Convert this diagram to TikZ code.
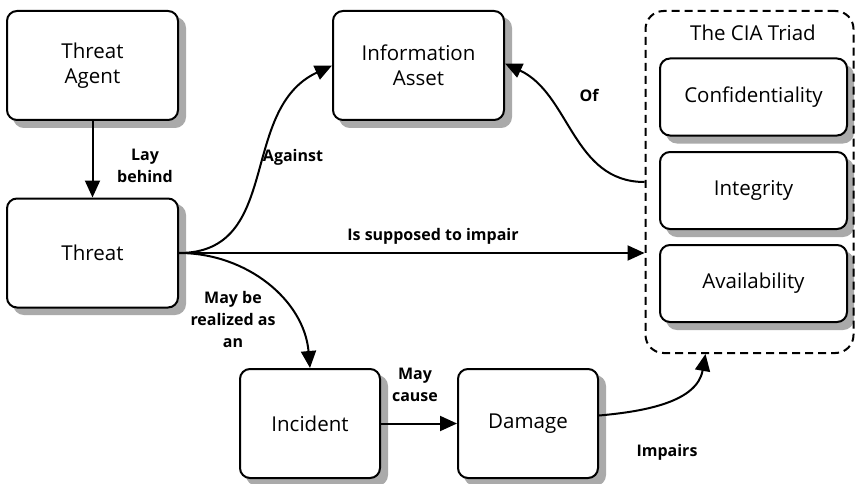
\documentclass[tikz,border=0pt]{standalone}
\usepackage{fontspec}
\setmainfont{Open Sans}
\usetikzlibrary{arrows.meta}
\definecolor{shadowgray}{RGB}{170,170,170}
\begin{document}
\begin{tikzpicture}[x=1pt,y=-1pt,
  box/.style={draw=black, line width=2pt, rounded corners=10pt, fill=white, align=center,
    inner sep=0pt, font=\fontsize{20.5}{25}\selectfont},
  bigbox/.style={box, minimum width=171pt, minimum height=109pt},
  ciabox/.style={box, minimum width=187pt, minimum height=77pt},
  smallbox/.style={box, minimum width=140pt, minimum height=109pt},
  shadowbox/.style={fill=shadowgray, draw=shadowgray, line width=2pt, rounded corners=10pt},
  arr/.style={line width=2pt, -{Triangle[length=17pt,width=15pt]}},
  lbl/.style={align=center, inner sep=0pt, font=\bfseries\fontsize{16}{22}\selectfont}
]
\fill[white] (0,0) rectangle (856,484);
\useasboundingbox (0,0) rectangle (856,484);
\filldraw[shadowbox] (14,18) rectangle (185,127);
\filldraw[shadowbox] (14,205) rectangle (185,314);
\filldraw[shadowbox] (340,18) rectangle (511,127);
\filldraw[shadowbox] (667,65.5) rectangle (853,142.5);
\filldraw[shadowbox] (667,159) rectangle (853,236);
\filldraw[shadowbox] (667,252) rectangle (853,329);
\filldraw[shadowbox] (247,376) rectangle (387,485);
\filldraw[shadowbox] (465,376) rectangle (605,485);

\node[bigbox] (agent) at (92.5,65.5) {Threat\\Agent};
\node[bigbox] (threat) at (92.5,253) {Threat};
\node[bigbox] (asset) at (418.5,65.5) {Information\\Asset};
\node[draw=black, line width=2pt, dash pattern=on 8pt off 5pt, rounded corners=18pt,
  minimum width=208pt, minimum height=342pt, inner sep=0pt] (cia) at (749.5,182) {};
\node[align=center, inner sep=0pt, font=\fontsize{20.5}{25}\selectfont] (ciat) at (753,33) {The CIA Triad};
\node[ciabox] (conf) at (753.5,97) {Confidentiality};
\node[ciabox] (integ) at (753.5,190.5) {Integrity};
\node[ciabox] (avail) at (753.5,283.5) {Availability};
\node[smallbox] (incident) at (310,423.5) {Incident};
\node[smallbox] (damage) at (528,423.5) {Damage};

\draw[arr] (agent) -- (threat);
\draw[arr] (threat.east) to[out=0,in=205,looseness=1.1] (asset.west);
\draw[arr] (threat.east) -- (threat.east -| cia.west);
\draw[arr] (threat.east) to[out=0,in=95,looseness=1] (incident.north);
\draw[arr] (incident) -- (damage);
\draw[arr] ([yshift=8pt]damage.east) to[out=5,in=-100,looseness=1] ([xshift=-44pt]cia.south);
\draw[arr] (cia.west) to[out=180,in=-25,looseness=1] ([yshift=2pt]asset.east);

\node[lbl] (l1) at (145,166) {Lay\\behind};
\node[lbl] (l2) at (293,157) {Against};
\node[lbl] (l3) at (433,236) {Is supposed to impair};
\node[lbl] (l4) at (233,319) {May be\\realized as\\an};
\node[lbl] (l5) at (415,385) {May\\cause};
\node[lbl] (l6) at (667,452) {Impairs};
\node[lbl] (l7) at (589,95) {Of};
\end{tikzpicture}
\end{document}
